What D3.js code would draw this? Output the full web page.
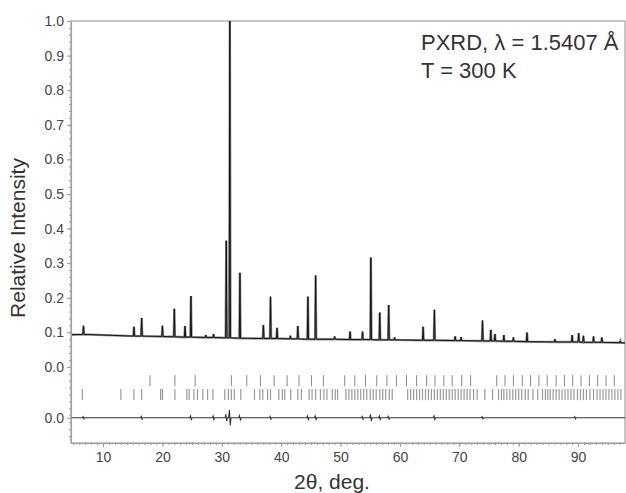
<!DOCTYPE html>
<html>
<head>
<meta charset="utf-8">
<script src="https://cdn.jsdelivr.net/npm/d3@7"></script>
<style>
  body { margin: 0; background: #fff; }
  svg { display: block; font-family: "Liberation Sans", Arial, sans-serif; }
</style>
</head>
<body>
<svg id="chart" width="626" height="493"></svg>
<script>
// peak positions (2theta, deg), peak tops and local background
let peakPos = [6.7, 15.2, 16.5, 20.0, 22.0, 23.8, 24.8, 27.3, 28.6, 30.75, 31.35, 33.05, 37.0, 38.2, 39.3,
    41.55, 42.8, 44.5, 45.8, 49.0, 51.6, 53.7, 55.1, 56.6, 58.1, 59.1, 63.9, 65.8, 69.3, 70.3, 73.9,
    75.3, 76.0, 77.5, 79.1, 81.4, 86.1, 89.0, 90.1, 90.9, 92.6, 94.0, 97.1];
let peakTop = [0.119, 0.116, 0.141, 0.119, 0.168, 0.118, 0.205, 0.092, 0.095, 0.365, 1.0, 0.272, 0.121, 0.203, 0.113,
    0.09, 0.118, 0.203, 0.264, 0.088, 0.102, 0.102, 0.316, 0.157, 0.179, 0.085, 0.116, 0.165, 0.088, 0.086, 0.134,
    0.107, 0.095, 0.092, 0.085, 0.099, 0.08, 0.092, 0.098, 0.09, 0.088, 0.085, 0.075];
let peakBase = [0.094, 0.089, 0.089, 0.088, 0.087, 0.086, 0.086, 0.085, 0.085, 0.084, 0.084, 0.083, 0.082, 0.082, 0.082,
    0.081, 0.081, 0.080, 0.080, 0.080, 0.079, 0.079, 0.079, 0.078, 0.078, 0.078, 0.077, 0.077, 0.076, 0.076, 0.075,
    0.075, 0.075, 0.074, 0.074, 0.073, 0.072, 0.072, 0.072, 0.071, 0.071, 0.071, 0.070];
let bgStart = [4.6, 0.093];
let bgEnd = [97.9, 0.069];

// difference curve wiggles
let diffPos = [6.7, 16.5, 24.8, 28.6, 30.75, 31.35, 33.05, 38.2, 44.5, 45.8, 53.7, 55.1, 56.6, 58.1, 65.8, 73.9, 89.5];
let diffAmp = [0.003, 0.004, 0.005, 0.005, 0.01, 0.022, 0.006, 0.004, 0.005, 0.005, 0.004, 0.01, 0.005, 0.004, 0.005, 0.003, 0.003];

// Bragg reflection markers, two phases
let braggUpper = [17.9, 22.1, 25.5, 31.6, 34.2, 36.5, 38.8, 41.0, 43.0, 45.1, 47.1, 50.7, 52.4, 54.2, 56.1, 57.8,
    59.4, 61.1, 62.8, 64.5, 65.9, 67.4, 68.8, 70.4, 71.9, 76.3, 77.7, 79.1, 80.6, 82.0, 83.4, 84.8, 86.3, 87.7,
    89.1, 90.5, 91.9, 93.3, 94.7, 96.1];
let braggLower = [6.5, 13.0, 15.2, 16.5, 19.7, 20.0, 22.1, 24.1, 24.5, 25.3, 25.9, 26.8, 27.6, 28.5, 30.5, 31.1,
    31.6, 32.1, 33.2, 35.5, 36.4, 36.9, 37.7, 38.2, 39.6, 40.2, 40.6, 41.6, 42.8, 43.4,
    44.7, 45.2, 45.8, 46.6, 47.2, 47.7, 48.6, 49.1, 49.5, 50.9, 51.4, 51.9, 52.4, 52.9, 53.4, 53.9, 54.4, 55.0,
    55.5, 56.0, 56.6, 57.1, 57.6, 58.2, 58.7, 61.3, 61.8, 62.3, 62.8, 63.3, 63.8, 64.3, 64.8, 65.3, 65.8, 66.3,
    66.8, 67.3, 67.8, 68.3, 68.8, 69.3, 69.8, 70.3, 70.8, 71.3, 71.8, 72.4, 73.0, 74.3, 75.6, 76.6, 77.1, 77.5,
    78.0, 78.5, 79.0, 79.5, 80.0, 80.5, 81.1, 81.6, 82.4, 83.2, 84.0, 84.5, 84.9, 85.3, 85.8, 86.3, 86.8, 87.3,
    87.8, 88.3, 88.8, 89.3, 89.9, 90.4, 90.9, 91.4, 92.0, 92.6, 93.2, 93.7, 94.2, 94.7, 95.2, 95.7, 96.2, 96.7, 97.2];

let xTicks = [10, 20, 30, 40, 50, 60, 70, 80, 90];
let yTicks = [0.0, 0.1, 0.2, 0.3, 0.4, 0.5, 0.6, 0.7, 0.8, 0.9, 1.0];

let diffOffset = -0.147;
let halfWidth = 0.1;

let svg = d3.select('#chart');
let margin = { left: 71, top: 21, right: 1, bottom: 50 };
let width = 626 - margin.left - margin.right;
let height = 493 - margin.top - margin.bottom;

let x = d3.scaleLinear().domain([4.6, 97.9]).range([0, width]);
let y = d3.scaleLinear().domain([-0.22, 1.0]).range([height, 0]);

let g = svg.append('g').attr('transform', 'translate(' + margin.left + ',' + margin.top + ')');

// profile vertices
let profile = [bgStart];
peakPos.forEach((p, i) => {
    profile.push([p - halfWidth, peakBase[i]]);
    profile.push([p, peakTop[i]]);
    profile.push([p + halfWidth, peakBase[i]]);
});
profile.push(bgEnd);

let diffLine = [[bgStart[0], 0]];
diffPos.forEach((p, i) => {
    diffLine.push([p - 0.2, 0]);
    diffLine.push([p - 0.07, diffAmp[i]]);
    diffLine.push([p + 0.07, -diffAmp[i]]);
    diffLine.push([p + 0.2, 0]);
});
diffLine.push([bgEnd[0], 0]);

let line = d3.line()
    .x((d) => x(d[0]))
    .y((d) => y(d[1]));

// frame
g.append('rect')
    .attr('x', 0).attr('y', 0)
    .attr('width', width).attr('height', height)
    .attr('fill', 'none')
    .attr('stroke', '#a0a0a0')
    .attr('stroke-width', 1.2);

// observed (grey) and calculated (black)
g.append('path')
    .datum(profile)
    .attr('d', line)
    .attr('fill', 'none')
    .attr('stroke', '#8c8c8c')
    .attr('stroke-width', 2.4)
    .attr('stroke-linejoin', 'miter');

g.append('path')
    .datum(profile)
    .attr('d', line)
    .attr('fill', 'none')
    .attr('stroke', '#151515')
    .attr('stroke-width', 1);

// Bragg markers
g.append('g').selectAll('line')
    .data(braggUpper)
    .join('line')
    .attr('x1', (d) => x(d)).attr('x2', (d) => x(d))
    .attr('y1', y(-0.024)).attr('y2', y(-0.056))
    .attr('stroke', '#555')
    .attr('stroke-opacity', 0.7)
    .attr('stroke-width', 1);

g.append('g').selectAll('line')
    .data(braggLower)
    .join('line')
    .attr('x1', (d) => x(d)).attr('x2', (d) => x(d))
    .attr('y1', y(-0.064)).attr('y2', y(-0.096))
    .attr('stroke', '#555')
    .attr('stroke-opacity', 0.6)
    .attr('stroke-width', 1.2);

// difference curve
g.append('path')
    .datum(diffLine.map((d) => [d[0], d[1] + diffOffset]))
    .attr('d', line)
    .attr('fill', 'none')
    .attr('stroke', '#333')
    .attr('stroke-width', 1.1);

// axes
let xAxis = g.append('g')
    .attr('transform', 'translate(0,' + height + ')')
    .call(d3.axisBottom(x).tickValues(xTicks).tickSize(4).tickSizeOuter(0).tickFormat(d3.format('d')));
g.append('g')
    .attr('transform', 'translate(0,' + height + ')')
    .call(d3.axisBottom(x).tickValues(d3.range(5, 98, 1)).tickSize(2).tickFormat(''))
    .call((a) => a.select('.domain').remove());

let yAxis = g.append('g')
    .call(d3.axisLeft(y).tickValues([diffOffset].concat(yTicks)).tickSize(4).tickSizeOuter(0)
        .tickFormat((d) => d === diffOffset ? '0.0' : d3.format('.1f')(d)));
g.append('g')
    .call(d3.axisLeft(y).tickValues(d3.range(-0.2, 1.001, 0.02)).tickSize(2).tickFormat(''))
    .call((a) => a.select('.domain').remove());

svg.selectAll('.tick line').attr('stroke', '#999');
svg.selectAll('.domain').attr('stroke', '#a0a0a0').attr('stroke-width', 1.2);
xAxis.selectAll('text').attr('font-size', 14).attr('fill', '#444').attr('dy', '0.85em');
yAxis.selectAll('text').attr('font-size', 14).attr('fill', '#444');

// titles
svg.append('text')
    .attr('transform', 'translate(25,238) rotate(-90)')
    .attr('text-anchor', 'middle')
    .attr('font-size', 21)
    .attr('fill', '#333')
    .text('Relative Intensity');

svg.append('text')
    .attr('x', 332)
    .attr('y', 489)
    .attr('text-anchor', 'middle')
    .attr('font-size', 21)
    .attr('fill', '#333')
    .text('2θ, deg.');

svg.append('text')
    .attr('x', 421)
    .attr('y', 50)
    .attr('font-size', 22)
    .attr('fill', '#333')
    .text('PXRD, λ = 1.5407 Å');

svg.append('text')
    .attr('x', 421)
    .attr('y', 78)
    .attr('font-size', 22)
    .attr('fill', '#333')
    .text('T = 300 K');
</script>
</body>
</html>
